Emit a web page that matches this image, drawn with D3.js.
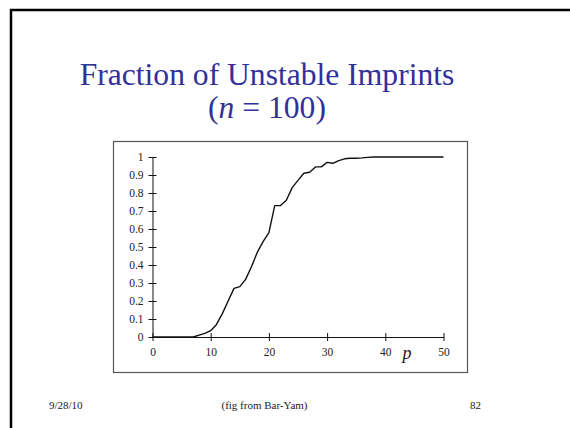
<!DOCTYPE html>
<html>
<head>
<meta charset="utf-8">
<script src="https://cdn.jsdelivr.net/npm/d3@7"></script>
<style>
  html, body { margin: 0; padding: 0; background: #fff; }
  svg { display: block; }
</style>
</head>
<body>
<svg id="chart" width="570" height="428"></svg>
<script>
// Fraction of unstable imprints versus number of imprinted patterns p (n = 100)
const pValues = d3.range(0, 51);
const fraction = [
  0, 0, 0, 0, 0, 0, 0, 0, 0.01, 0.02,
  0.035, 0.07, 0.13, 0.2, 0.27, 0.28, 0.32, 0.39, 0.47, 0.53,
  0.58, 0.73, 0.73, 0.76, 0.83, 0.87, 0.91, 0.915, 0.945, 0.945,
  0.97, 0.965, 0.98, 0.99, 0.993, 0.993, 0.995, 0.998, 1, 1,
  1, 1, 1, 1, 1, 1, 1, 1, 1, 1,
  1
];
const xTicks = [0, 10, 20, 30, 40, 50];
const yTicks = [0, 0.1, 0.2, 0.3, 0.4, 0.5, 0.6, 0.7, 0.8, 0.9, 1];
const titleLine1 = "Fraction of Unstable Imprints";
const footerDate = "9/28/10";
const footerSource = "(fig from Bar-Yam)";
const footerPage = "82";

const svg = d3.select("#chart");
const serif = "'Liberation Serif', 'Times New Roman', Times, serif";

// slide border
svg.append("path")
  .attr("d", "M11,440 L11,10 L580,10")
  .attr("fill", "none")
  .attr("stroke", "#000")
  .attr("stroke-width", 2.5);

// title
svg.append("text")
  .attr("x", 267).attr("y", 85)
  .attr("text-anchor", "middle")
  .attr("font-family", serif)
  .attr("font-size", 31.6)
  .attr("fill", "#313199")
  .text(titleLine1);

const sub = svg.append("text")
  .attr("x", 267).attr("y", 118)
  .attr("text-anchor", "middle")
  .attr("font-family", serif)
  .attr("font-size", 31.6)
  .attr("fill", "#313199");
sub.append("tspan").text("(");
sub.append("tspan").attr("font-style", "italic").text("n");
sub.append("tspan").text(" = 100)");

// figure frame
svg.append("rect")
  .attr("x", 113.5).attr("y", 141.5)
  .attr("width", 354).attr("height", 231)
  .attr("fill", "#fff")
  .attr("stroke", "#555")
  .attr("stroke-width", 1.2);

const x = d3.scaleLinear().domain([0, 50]).range([152.5, 443.5]);
const y = d3.scaleLinear().domain([0, 1]).range([337, 157]);

const axisColor = "#111";
const tickFont = 11.5;

// y axis
const yAxis = svg.append("g").attr("transform", `translate(${x(0)},0)`)
  .call(d3.axisLeft(y).tickValues(yTicks).tickSize(0).tickFormat(d3.format("~g")));
yAxis.select(".domain").attr("stroke", axisColor).attr("stroke-width", 1);
yAxis.selectAll(".tick text")
  .attr("x", -9)
  .attr("font-family", serif)
  .attr("font-size", tickFont)
  .attr("fill", "#222");
yAxis.selectAll(".tick").append("line")
  .attr("x1", -4).attr("x2", 4)
  .attr("stroke", axisColor).attr("stroke-width", 1);

// x axis
const xAxis = svg.append("g").attr("transform", `translate(0,${y(0)})`)
  .call(d3.axisBottom(x).tickValues(xTicks).tickSize(0));
xAxis.select(".domain").attr("stroke", axisColor).attr("stroke-width", 1);
xAxis.selectAll(".tick text")
  .attr("y", 11)
  .attr("font-family", serif)
  .attr("font-size", tickFont)
  .attr("fill", "#222");
xAxis.selectAll(".tick").append("line")
  .attr("y1", -4).attr("y2", 4)
  .attr("stroke", axisColor).attr("stroke-width", 1);

// axis name
svg.append("text")
  .attr("x", 407).attr("y", 359)
  .attr("text-anchor", "middle")
  .attr("font-family", serif)
  .attr("font-style", "italic")
  .attr("font-size", 18)
  .attr("fill", "#222")
  .text("p");

// curve
const line = d3.line()
  .x((d, i) => x(pValues[i]))
  .y(d => y(d));
svg.append("path")
  .datum(fraction)
  .attr("d", line)
  .attr("fill", "none")
  .attr("stroke", "#111")
  .attr("stroke-width", 1.4)
  .attr("stroke-linejoin", "round");

// footer
const footer = [
  { t: footerDate, x: 49, anchor: "start" },
  { t: footerSource, x: 264.5, anchor: "middle" },
  { t: footerPage, x: 481, anchor: "end" }
];
svg.selectAll("text.footer").data(footer).enter().append("text")
  .attr("class", "footer")
  .attr("x", d => d.x).attr("y", 409)
  .attr("text-anchor", d => d.anchor)
  .attr("font-family", serif)
  .attr("font-size", 11)
  .attr("fill", "#222")
  .text(d => d.t);
</script>
</body>
</html>
